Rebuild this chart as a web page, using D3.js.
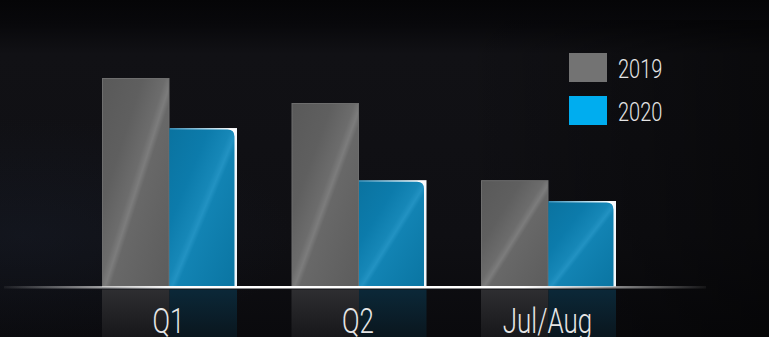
<!DOCTYPE html>
<html>
<head>
<meta charset="utf-8">
<script src="https://cdn.jsdelivr.net/npm/d3@7"></script>
<style>
  html, body { margin: 0; padding: 0; background: #0d0d11; overflow: hidden; }
  svg { display: block; }
</style>
</head>
<body>
<svg id="chart" width="769" height="337"></svg>
<script>
// Period categories and the two yearly series (indexed, Q1 2019 = 100)
const categories = ["Q1", "Q2", "Jul/Aug"];
const years = ["2019", "2020"];
const values2019 = [100, 88, 51];
const values2020 = [76, 51, 41];

const W = 769, H = 337;
const baseY = 286.5;

const svg = d3.select("#chart");
const defs = svg.append("defs");

// ---- background ----
const bg = defs.append("linearGradient").attr("id", "bg")
  .attr("x1", 0).attr("y1", 0).attr("x2", 0).attr("y2", 1);
bg.append("stop").attr("offset", 0).attr("stop-color", "#050507");
bg.append("stop").attr("offset", 0.07).attr("stop-color", "#08080b");
bg.append("stop").attr("offset", 0.16).attr("stop-color", "#111115");
bg.append("stop").attr("offset", 0.7).attr("stop-color", "#0f0f13");
bg.append("stop").attr("offset", 1).attr("stop-color", "#0a0a0d");
svg.append("rect").attr("width", W).attr("height", H).attr("fill", "url(#bg)");

const glow = defs.append("radialGradient").attr("id", "glow")
  .attr("cx", 0.03).attr("cy", 0.7).attr("r", 0.35);
glow.append("stop").attr("offset", 0).attr("stop-color", "#1a2232").attr("stop-opacity", 0.35);
glow.append("stop").attr("offset", 1).attr("stop-color", "#1a2232").attr("stop-opacity", 0);
svg.append("rect").attr("width", W).attr("height", H).attr("fill", "url(#glow)");

const shadeR = defs.append("linearGradient").attr("id", "shadeR")
  .attr("x1", 0).attr("y1", 0).attr("x2", 1).attr("y2", 0);
shadeR.append("stop").attr("offset", 0.6).attr("stop-color", "#000").attr("stop-opacity", 0);
shadeR.append("stop").attr("offset", 1).attr("stop-color", "#000").attr("stop-opacity", 0.45);
svg.append("rect").attr("y", 20).attr("width", W).attr("height", H - 20).attr("fill", "url(#shadeR)");

// ---- bar fills ----
function diagGradient(id, stops) {
  const g = defs.append("linearGradient").attr("id", id)
    .attr("x1", 0).attr("y1", 0).attr("x2", 1).attr("y2", 1);
  stops.forEach(([o, c]) => g.append("stop").attr("offset", o).attr("stop-color", c));
}
diagGradient("grayFill", [[0, "#595959"], [0.3, "#5f5f5f"], [0.47, "#6c6c6c"], [0.52, "#7c7c7c"], [0.56, "#686868"], [1, "#5c5c5c"]]);
diagGradient("blueFill", [[0, "#0a73a0"], [0.3, "#0c7bab"], [0.47, "#1687b7"], [0.52, "#2292c2"], [0.56, "#1283b3"], [1, "#0a75a2"]]);

const frame = defs.append("linearGradient").attr("id", "blueFrame")
  .attr("x1", 0).attr("y1", 0).attr("x2", 1).attr("y2", 0.25);
frame.append("stop").attr("offset", 0).attr("stop-color", "#3a90b8");
frame.append("stop").attr("offset", 0.55).attr("stop-color", "#b8dcec");
frame.append("stop").attr("offset", 0.85).attr("stop-color", "#ffffff");
frame.append("stop").attr("offset", 1).attr("stop-color", "#f0f6fa");

function reflGradient(id, top, bottom) {
  const g = defs.append("linearGradient").attr("id", id)
    .attr("gradientUnits", "userSpaceOnUse")
    .attr("x1", 0).attr("y1", baseY + 3).attr("x2", 0).attr("y2", H);
  g.append("stop").attr("offset", 0).attr("stop-color", top);
  g.append("stop").attr("offset", 1).attr("stop-color", bottom);
}
reflGradient("grayRefl", "#2e2e31", "#17171a");
reflGradient("blueRefl", "#0b2838", "#0a161e");

// ---- scales ----
const x0 = d3.scaleBand().domain(categories).range([74.75, 643.25])
  .paddingInner(0.2876).paddingOuter(0.1438);
const x1 = d3.scaleBand().domain(years).range([0, x0.bandwidth()]);
const y = d3.scaleLinear().domain([0, 100]).range([baseY, 78]);

const rows = categories.map((c, i) => ({ cat: c, vals: [values2019[i], values2020[i]] }));

// ---- reflections below the baseline ----
const refl = svg.append("g");
rows.forEach(r => {
  years.forEach((yr, j) => {
    const h = baseY - y(r.vals[j]);
    refl.append("rect")
      .attr("x", x0(r.cat) + x1(yr))
      .attr("y", baseY + 3)
      .attr("width", x1.bandwidth())
      .attr("height", h)
      .attr("fill", j === 0 ? "url(#grayRefl)" : "url(#blueRefl)");
  });
});

// ---- bars ----
const bars = svg.append("g");
rows.forEach(r => {
  // 2019 bar
  const gx = x0(r.cat) + x1("2019");
  bars.append("rect")
    .attr("x", gx + 0.5)
    .attr("y", y(r.vals[0]) + 0.5)
    .attr("width", x1.bandwidth() - 1)
    .attr("height", baseY - y(r.vals[0]) - 0.5)
    .attr("fill", "url(#grayFill)")
    .attr("stroke", "#6e6e6e")
    .attr("stroke-width", 1);

  // 2020 bar: light frame behind a rounded blue face
  const bx = x0(r.cat) + x1("2020");
  const bw = x1.bandwidth();
  const top = y(r.vals[1]);
  bars.append("rect")
    .attr("x", bx).attr("y", top)
    .attr("width", bw).attr("height", baseY - top)
    .attr("fill", "url(#blueFrame)");
  const rad = 7, iw = bw - 2.5, it = top + 1.5;
  const p = d3.path();
  p.moveTo(bx, baseY);
  p.lineTo(bx, it);
  p.lineTo(bx + iw - rad, it);
  p.quadraticCurveTo(bx + iw, it, bx + iw, it + rad);
  p.lineTo(bx + iw, baseY);
  p.closePath();
  bars.append("path").attr("d", p.toString()).attr("fill", "url(#blueFill)");
});

// ---- baseline ----
const lineG = defs.append("linearGradient").attr("id", "baseLine")
  .attr("gradientUnits", "userSpaceOnUse")
  .attr("x1", 4).attr("y1", 0).attr("x2", 706).attr("y2", 0);
lineG.append("stop").attr("offset", 0).attr("stop-color", "#ffffff").attr("stop-opacity", 0.05);
lineG.append("stop").attr("offset", 0.23).attr("stop-color", "#ffffff").attr("stop-opacity", 0.95);
lineG.append("stop").attr("offset", 0.26).attr("stop-color", "#ffffff").attr("stop-opacity", 1);
lineG.append("stop").attr("offset", 0.74).attr("stop-color", "#ffffff").attr("stop-opacity", 1);
lineG.append("stop").attr("offset", 1).attr("stop-color", "#ffffff").attr("stop-opacity", 0.05);
svg.append("rect")
  .attr("x", 4).attr("y", baseY - 0.5)
  .attr("width", 702).attr("height", 2.5)
  .attr("fill", "url(#baseLine)");

// ---- category labels ----
const labels = svg.append("g");
categories.forEach(c => {
  labels.append("text")
    .attr("transform", `translate(${x0(c) + x0.bandwidth() / 2 - 1},333) scale(0.72,1)`)
    .attr("text-anchor", "middle")
    .attr("font-family", "Roboto")
    .attr("font-weight", 300)
    .attr("font-size", 36)
    .attr("fill", "#e6e6e6")
    .text(c);
});

// ---- legend ----
const legendColors = ["#737373", "#00adef"];
const legend = svg.append("g");
years.forEach((yr, i) => {
  const ly = 53 + i * 43;
  legend.append("rect")
    .attr("x", 569).attr("y", ly)
    .attr("width", 38).attr("height", 29)
    .attr("fill", legendColors[i]);
  legend.append("text")
    .attr("transform", `translate(618,${ly + 25}) scale(0.8,1)`)
    .attr("font-family", "Roboto")
    .attr("font-weight", 300)
    .attr("font-size", 25)
    .attr("fill", "#e4e4e4")
    .text(yr);
});
</script>
</body>
</html>
